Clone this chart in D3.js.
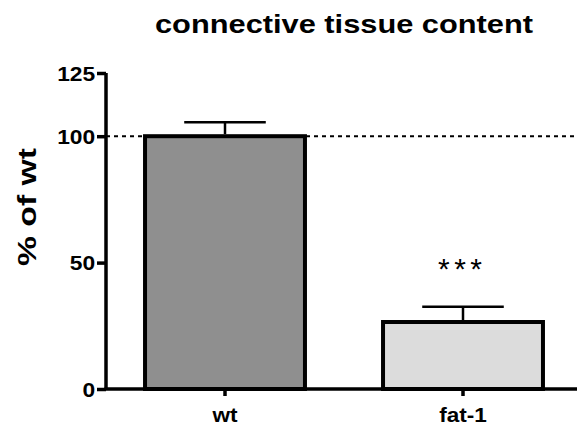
<!DOCTYPE html>
<html><head><meta charset="utf-8">
<script src="https://cdn.jsdelivr.net/npm/d3@7"></script>
<style>body{margin:0;background:#fff}svg{display:block}</style>
</head><body>
<script>
const categories = ["wt", "fat-1"];
const means = [100, 26.5];
const errors = [5.5, 6];
const fills = ["#8f8f8f", "#dcdcdc"];
const significance = ["", "***"];
const yTicks = [0, 50, 100, 125];
const title = "connective tissue content";
const yLabel = "% of wt";

const FONT = "Liberation Sans, Arial, sans-serif";
const W = 577, H = 426;
const svg = d3.select("body").append("svg").attr("width", W).attr("height", H);
const x0 = 106;
const y = d3.scaleLinear().domain([0, 125]).range([389, 73]);
const x = d3.scaleBand().domain(categories).range([106, 582]).paddingInner(0.328).paddingOuter(0.164);

svg.append("text").attr("x", 344).attr("y", 33).attr("text-anchor", "middle")
  .attr("font-family", FONT).attr("font-weight", "bold")
  .attr("font-size", 26).attr("textLength", 378).attr("lengthAdjust", "spacingAndGlyphs").text(title);

svg.append("text").attr("transform", `translate(36,207) rotate(-90)`).attr("text-anchor", "middle")
  .attr("font-family", FONT).attr("font-weight", "bold")
  .attr("font-size", 25).attr("textLength", 118).attr("lengthAdjust", "spacingAndGlyphs").text(yLabel);

// dashed reference line
svg.append("line").attr("x1", x0).attr("x2", W).attr("y1", y(100)).attr("y2", y(100))
  .attr("stroke", "#000").attr("stroke-width", 2).attr("stroke-dasharray", "4,4");

// bars
const g = svg.append("g");
categories.forEach((c, i) => {
  const bx = x(c), bw = x.bandwidth(), cx = bx + bw / 2;
  g.append("rect").attr("x", bx).attr("y", y(means[i])).attr("width", bw).attr("height", y(0) - y(means[i]))
    .attr("fill", fills[i]).attr("stroke", "#000").attr("stroke-width", 4);
  g.append("line").attr("x1", cx).attr("x2", cx).attr("y1", y(means[i]) - 2).attr("y2", y(means[i] + errors[i]))
    .attr("stroke", "#000").attr("stroke-width", 2.5);
  g.append("line").attr("x1", cx - bw * 0.255).attr("x2", cx + bw * 0.255)
    .attr("y1", y(means[i] + errors[i])).attr("y2", y(means[i] + errors[i]))
    .attr("stroke", "#000").attr("stroke-width", 2.5);
  if (significance[i]) {
    g.append("text").attr("x", cx - 3).attr("y", y(means[i] + errors[i]) - 28).attr("text-anchor", "middle")
      .attr("font-family", FONT).attr("font-size", 30)
      .attr("textLength", 44).attr("lengthAdjust", "spacing")
      .text(significance[i]);
  }
});

// y axis
const yAxis = svg.append("g").attr("transform", `translate(${x0},0)`)
  .call(d3.axisLeft(y).tickValues(yTicks).tickSize(9).tickPadding(1).tickFormat(d3.format("d")));
yAxis.select(".domain").attr("stroke-width", 3.5).attr("d", `M0,${y(125)}V${y(0)}`);
yAxis.selectAll(".tick line").attr("stroke-width", 3.5);
yAxis.selectAll("text").attr("font-family", FONT).attr("font-weight", "bold")
  .attr("font-size", 20).attr("fill", "#000").attr("x", -9.5).attr("dy", "0.36em")
  .attr("transform", "scale(1.14,1)");

// x axis
const xAxis = svg.append("g").attr("transform", `translate(0,${y(0)})`)
  .call(d3.axisBottom(x).tickSize(7).tickPadding(2));
xAxis.select(".domain").attr("stroke-width", 3.5).attr("d", `M${x0 - 1.5},0H${W}`);
xAxis.selectAll(".tick line").attr("stroke-width", 3.5);
xAxis.selectAll("text").attr("font-family", FONT).attr("font-weight", "bold")
  .attr("font-size", 20).attr("fill", "#000").attr("y", 33).attr("dy", 0)
  .attr("transform", "scale(1.13,1)");
</script>
</body></html>
